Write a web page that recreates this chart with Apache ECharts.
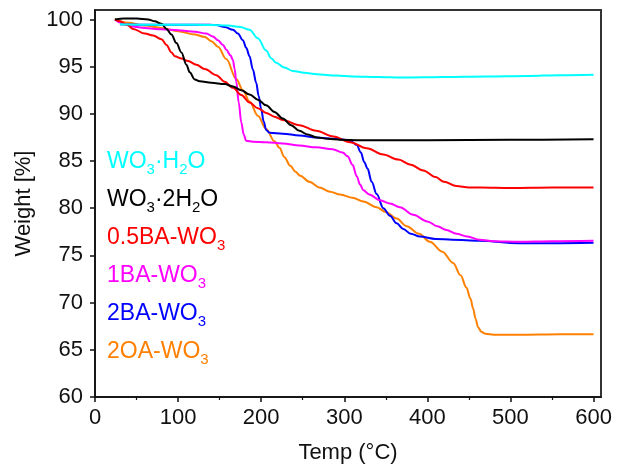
<!DOCTYPE html>
<html><head><meta charset="utf-8">
<script src="https://cdn.jsdelivr.net/npm/echarts@6/dist/echarts.min.js"></script>
<style>html,body{margin:0;padding:0;background:#fff}#c{width:619px;height:469px}</style>
</head><body><div id="c"></div>
<script>
// ---- data (temperature °C, weight %) ----
const xTicks = [0, 100, 200, 300, 400, 500, 600];
const xMinorTicks = [50, 150, 250, 350, 450, 550];
const yTicks = [60, 65, 70, 75, 80, 85, 90, 95, 100];

const names = ['WO3·H2O', 'WO3·2H2O', '0.5BA-WO3', '1BA-WO3', '2BA-WO3', '2OA-WO3'];
const colors = ['#00FFFF', '#000000', '#FF0000', '#FF00FF', '#0000FF', '#FF8000'];

const tH2O = [30,60,100,140,160,175,186,196,206,212,218,228,238,252,267,290,310,340,370,420,470,520,560,600];
const wH2O = [99.5,99.45,99.45,99.4,99.35,99.2,98.9,98.0,96.7,95.9,95.4,94.9,94.55,94.35,94.2,94.05,93.95,93.9,93.85,93.9,93.95,94.0,94.1,94.15];

const t2H2O = [24,35,50,64,72,80,86,92,98,104,110,114,120,126,140,156,166,176,186,196,206,216,226,236,246,256,267,280,295,320,400,500,600];
const w2H2O = [100.0,100.1,100.1,100.0,99.8,99.55,99.0,98.4,97.5,96.5,95.2,94.4,93.65,93.45,93.3,93.15,92.9,92.5,92.05,91.5,90.9,90.2,89.5,88.8,88.2,87.8,87.5,87.35,87.25,87.2,87.2,87.25,87.3];

const tBA05 = [24,30,39,46,60,70,80,86,92,96,104,112,122,132,146,156,166,176,186,196,206,216,226,246,266,287,307,327,347,365,380,395,410,420,435,450,465,500,550,600];
const wBA05 = [100,99.8,99.4,99.0,98.5,98.3,97.9,97.3,96.5,96.1,95.85,95.6,95.2,94.75,94.1,93.4,92.75,92.0,91.2,90.6,90.1,89.7,89.35,88.8,88.2,87.6,87.0,86.35,85.7,85.15,84.6,84.0,83.3,82.8,82.35,82.2,82.2,82.15,82.2,82.2];

const tBA1 = [24,30,45,60,80,100,120,134,142,148,154,158,163,166,168,170,173,176,179,182,190,206,226,246,266,286,298,304,310,315,319,323,330,343,355,367,383,400,412,423,435,448,463,480,510,550,600];
const wBA1 = [100,99.7,99.25,99.1,98.95,98.85,98.7,98.5,98.2,97.8,97.3,96.8,96.2,95.7,94.8,93.4,91.2,89.1,87.8,87.15,87.05,87.0,86.85,86.65,86.45,86.25,85.9,85.5,84.6,83.4,82.5,81.9,81.45,80.85,80.5,80.1,79.3,78.6,78.1,77.7,77.3,77.0,76.65,76.5,76.45,76.5,76.55];

const tBA2 = [30,60,100,130,146,156,166,172,178,182,186,190,194,197,200,203,206,210,226,246,266,290,300,308,315,320,324,328,333,339,347,355,363,371,380,391,410,430,463,510,550,600];
const wBA2 = [99.5,99.45,99.45,99.45,99.4,99.2,98.9,98.5,97.8,97.0,96.1,94.7,93.3,91.9,90.5,89.2,88.3,88.0,87.9,87.7,87.5,87.35,87.25,87.1,86.7,85.9,84.9,84.2,82.8,81.5,80.0,79.2,78.4,77.8,77.3,77.0,76.75,76.65,76.55,76.3,76.3,76.35];

const tOA2 = [24,40,60,80,100,120,132,140,148,158,170,178,186,196,206,216,222,228,235,241,247,258,270,283,295,310,323,339,350,363,375,390,403,418,431,440,447,452,455,458,461,465,470,480,510,560,600];
const wOA2 = [100,99.65,99.35,99.1,98.75,98.4,98.15,97.7,97.1,95.8,93.7,92.5,91.3,89.8,88.4,87.1,86.4,85.4,84.5,83.9,83.45,82.8,82.2,81.75,81.45,81.1,80.7,80.1,79.6,78.9,78.1,77.3,76.45,75.4,74.2,72.9,71.6,70.4,69.4,68.3,67.4,66.9,66.7,66.6,66.6,66.65,66.65];

const temps = [tH2O, t2H2O, tBA05, tBA1, tBA2, tOA2];
const weights = [wH2O, w2H2O, wBA05, wBA1, wBA2, wOA2];

// legend rich labels
const legendRich = {
  'WO3·H2O': '{a|WO}{s|3}{a|·H}{s|2}{a|O}',
  'WO3·2H2O': '{a|WO}{s|3}{a|·2H}{s|2}{a|O}',
  '0.5BA-WO3': '{a|0.5BA-WO}{s|3}',
  '1BA-WO3': '{a|1BA-WO}{s|3}',
  '2BA-WO3': '{a|2BA-WO}{s|3}',
  '2OA-WO3': '{a|2OA-WO}{s|3}'
};

const FONT = 'Liberation Sans, Arial, sans-serif';
const chart = echarts.init(document.getElementById('c'), null, {renderer: 'canvas'});

const series = names.map((n, i) => ({
  name: n,
  type: 'line',
  xAxisIndex: 0,
  yAxisIndex: 0,
  data: temps[i].map((t, k) => [t, weights[i][k]]),
  showSymbol: false,
  smooth: 0.35,
  smoothMonotone: 'x',
  lineStyle: {color: colors[i], width: 2},
  itemStyle: {color: colors[i]},
  z: 10 - i
}));

chart.setOption({
  animation: false,
  backgroundColor: '#fff',
  textStyle: {fontFamily: FONT},
  grid: {left: 95, right: 18, top: 10, bottom: 70, show: true, borderColor: '#333', borderWidth: 2, backgroundColor: 'transparent'},
  legend: {
    orient: 'vertical',
    left: 97,
    top: 145,
    itemGap: 11,
    itemWidth: 0,
    itemHeight: 0,
    icon: 'rect',
    selectedMode: false,
    formatter: n => legendRich[n],
    data: names.map((n, i) => ({name: n, textStyle: {color: colors[i]}})),
    textStyle: {
      fontFamily: FONT,
      fontSize: 23,
      rich: {
        a: {fontSize: 23, lineHeight: 24, verticalAlign: 'top', fontFamily: FONT},
        s: {fontSize: 15, lineHeight: 15, verticalAlign: 'top', padding: [12, 0, 0, 0], fontFamily: FONT}
      }
    }
  },
  xAxis: [{
    type: 'value', min: 0, max: 609, interval: 100,
    name: 'Temp (°C)', nameLocation: 'middle', nameGap: 45,
    nameTextStyle: {fontSize: 22, color: '#111', fontFamily: FONT},
    axisLine: {show: true, onZero: false, lineStyle: {color: '#111', width: 1.5}},
    axisTick: {show: true, inside: false, length: 5, customValues: xTicks, lineStyle: {color: '#111', width: 1.5}},
    axisLabel: {show: true, customValues: xTicks, fontSize: 22, color: '#111', margin: 10, fontFamily: FONT},
    splitLine: {show: false}
  }, {
    type: 'value', min: 0, max: 609, position: 'bottom', gridIndex: 0,
    axisLine: {show: false},
    axisTick: {show: true, inside: false, length: 3, customValues: xMinorTicks, lineStyle: {color: '#111', width: 1.2}},
    axisLabel: {show: false},
    splitLine: {show: false}
  }],
  yAxis: [{
    type: 'value', min: 60, max: 101, interval: 5,
    name: 'Weight [%]', nameLocation: 'middle', nameGap: 60,
    nameTextStyle: {fontSize: 22, color: '#111', fontFamily: FONT},
    axisLine: {show: true, onZero: false, lineStyle: {color: '#111', width: 1.5}},
    axisTick: {show: true, inside: false, length: 5, customValues: yTicks, lineStyle: {color: '#111', width: 1.5}},
    axisLabel: {show: true, customValues: yTicks, fontSize: 22, color: '#111', margin: 12, fontFamily: FONT},
    splitLine: {show: false}
  }],
  series: series
});
</script>
</body></html>
